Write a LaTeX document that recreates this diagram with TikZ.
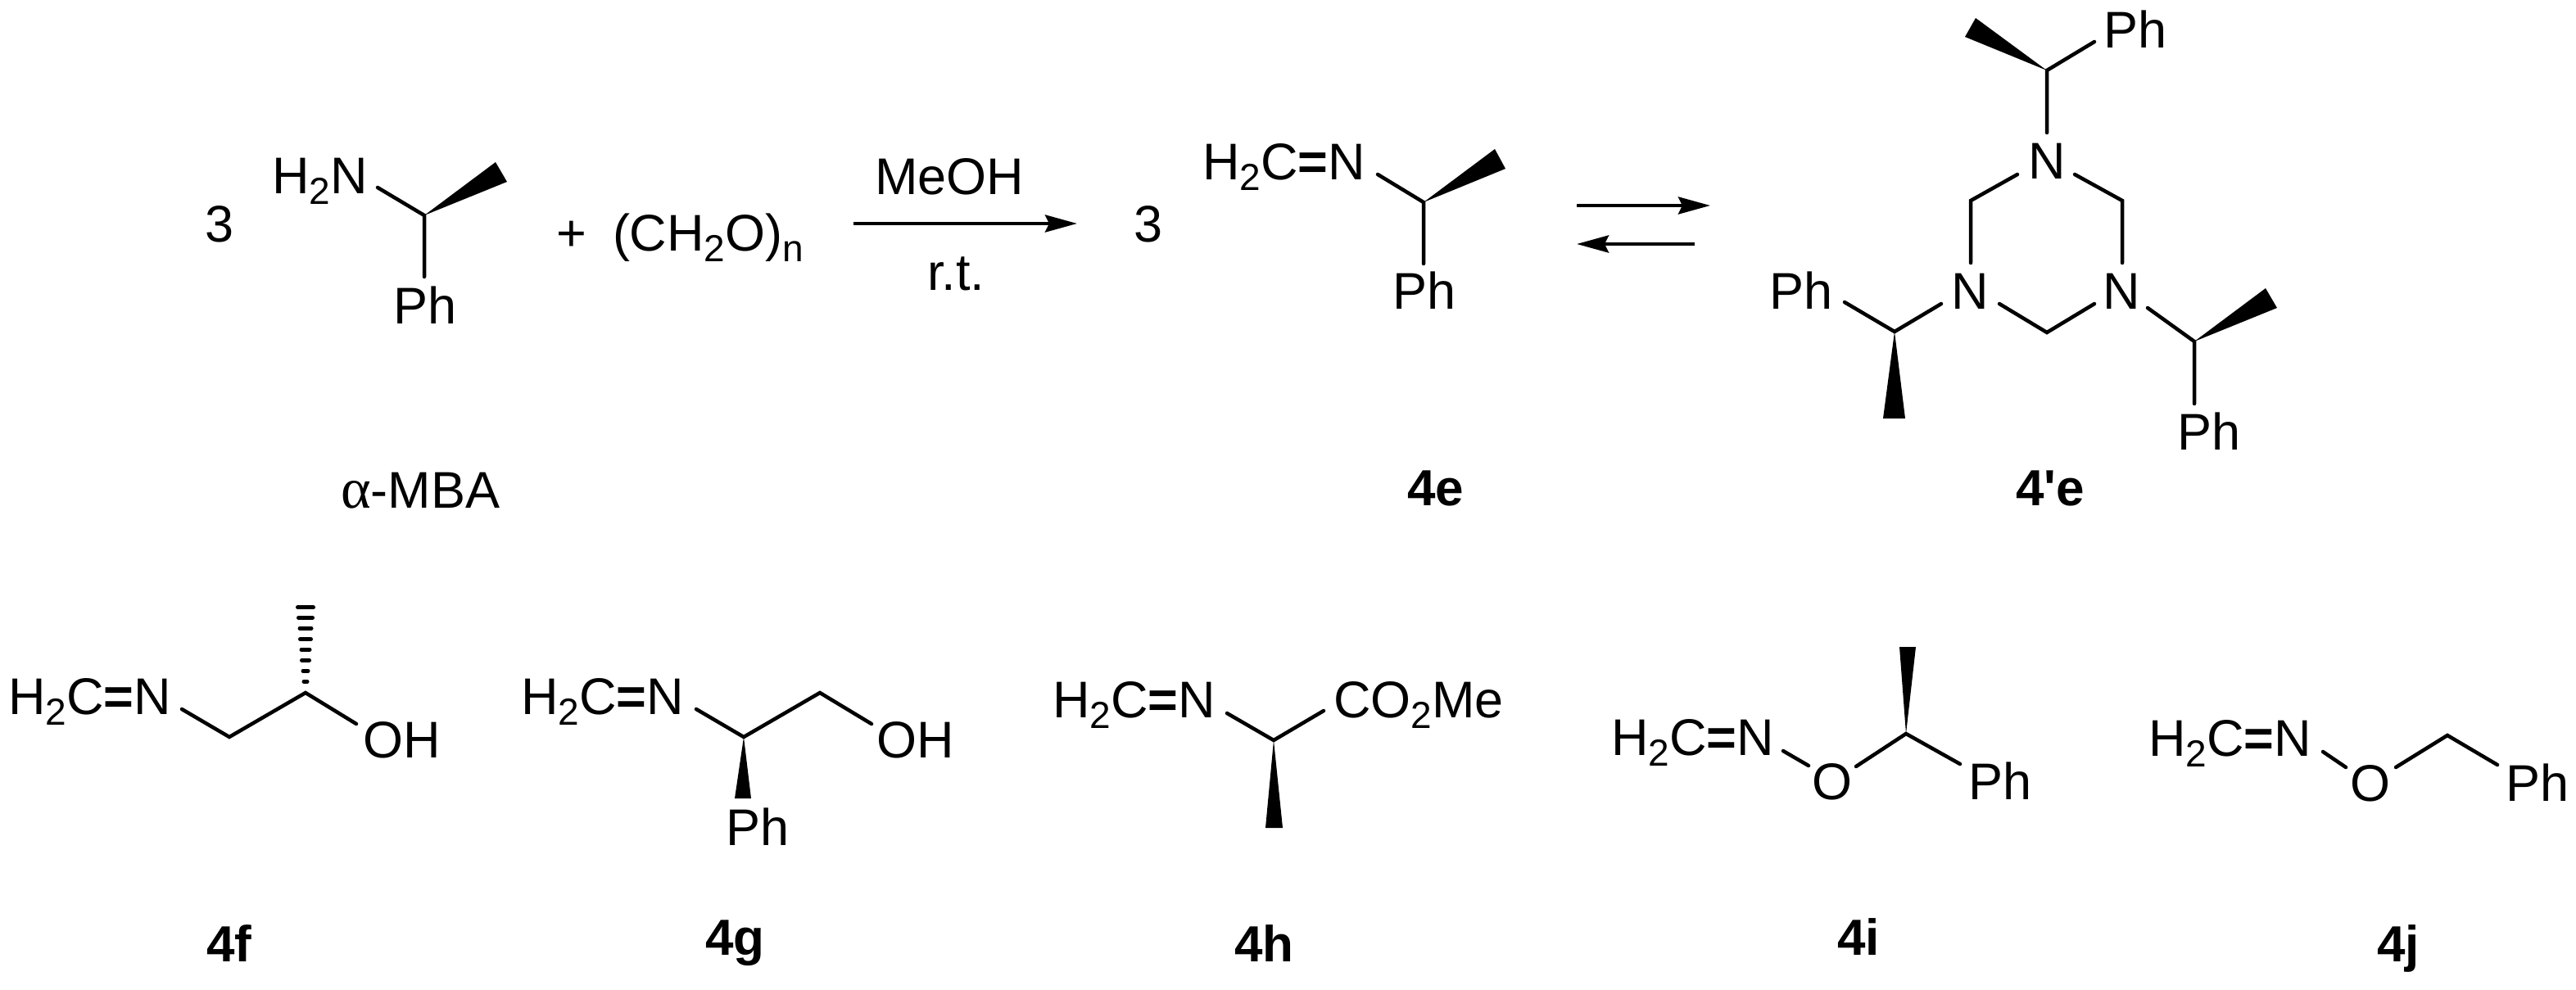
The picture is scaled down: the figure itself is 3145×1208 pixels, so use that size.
\documentclass[tikz,border=0pt]{standalone}
\usepackage{fontspec}
\setmainfont{Liberation Sans}
\newfontfamily\symfont{Liberation Serif}
\newfontfamily\cmpfont{Liberation Sans}
\usetikzlibrary{arrows.meta}
\newcommand{\sbs}[1]{\raisebox{-13pt}{\fontsize{46}{46}\selectfont #1}}
\newcommand{\imine}{H\sbs{2}C{\bfseries =}N}
\tikzset{
  lbl/.style={anchor=base west,inner sep=0pt,outer sep=0pt,font=\fontsize{63}{70}\selectfont},
  cmp/.style={anchor=base west,inner sep=0pt,outer sep=0pt,font=\fontsize{62}{70}\selectfont\cmpfont\bfseries},
  bond/.style={draw=black,line width=4.5pt,line cap=round,line join=miter},
  wedge/.style={fill=black,draw=none},
  rxn/.style={draw=black,line width=4.5pt,-{Stealth[length=39pt,width=21pt,inset=5pt]}},
  hashb/.style={draw=black,line width=5pt,line cap=round}
}
\begin{document}
\begin{tikzpicture}[x=1pt,y=-1pt]
\useasboundingbox (0,0) rectangle (3145,1208);
% ---- alpha-MBA
\node[lbl] (three1) at (250,295) {3};
\node[lbl] (amine) at (332,236) {H\sbs{2}N};
\node[lbl] (ph1) at (480,395) {Ph};
\coordinate (a1) at (461,229); \coordinate (a2) at (518,263);
\coordinate (a3) at (518,338); \coordinate (a4) at (605,198); \coordinate (a5) at (619,222);
\draw[bond] (a1) -- (a2) -- (a3);
\fill[wedge] (a2) -- (a4) -- (a5) -- cycle;
\node[lbl] (plus) at (679,306) {+};
\node[lbl] (para) at (748,306) {(CH\sbs{2}O)\sbs{n}};
\node[lbl] (amba) at (416,620) {{\symfont\fontsize{70}{70}\selectfont α}-MBA};
% ---- main arrow
\coordinate (r1) at (1042,273); \coordinate (r2) at (1315,273);
\draw[rxn] (r1) -- (r2);
\node[lbl] (meoh) at (1068,237) {MeOH};
\node[lbl] (rt) at (1132,354) {r.t.};
\node[lbl] (three2) at (1384,295) {3};
% ---- 4e
\node[lbl] (e0) at (1468,219) {\imine};
\node[lbl] (eph) at (1700,377) {Ph};
\coordinate (e1) at (1682,213); \coordinate (e2) at (1738,247);
\coordinate (e3) at (1738,322); \coordinate (e4) at (1825,182); \coordinate (e5) at (1838,206);
\draw[bond] (e1) -- (e2) -- (e3);
\fill[wedge] (e2) -- (e4) -- (e5) -- cycle;
\node[cmp] (l4e) at (1718,617) {4e};
% ---- equilibrium
\coordinate (q1) at (1925,251); \coordinate (q2) at (2088,251);
\coordinate (q3) at (2069,298); \coordinate (q4) at (1925,298);
\draw[rxn] (q1) -- (q2);
\draw[rxn] (q3) -- (q4);
% ---- 4'e
\node[lbl] (nt) at (2476,218) {N};
\node[lbl] (nl) at (2382,377) {N};
\node[lbl] (nr) at (2567,377) {N};
\node[lbl] (pt) at (2568,58) {Ph};
\node[lbl] (pl) at (2160,377) {Ph};
\node[lbl] (pr) at (2658,549) {Ph};
\coordinate (t1) at (2499,86); \coordinate (t2) at (2499,162); \coordinate (t3) at (2557,51);
\coordinate (t4) at (2412,22); \coordinate (t5) at (2399,45);
\draw[bond] (t3) -- (t1) -- (t2);
\fill[wedge] (t1) -- (t4) -- (t5) -- cycle;
\coordinate (g1) at (2463,213); \coordinate (g2) at (2406,245); \coordinate (g3) at (2406,321);
\coordinate (g4) at (2533,213); \coordinate (g5) at (2591,245); \coordinate (g6) at (2591,321);
\draw[bond] (g1) -- (g2) -- (g3);
\draw[bond] (g4) -- (g5) -- (g6);
\coordinate (g7) at (2441,371); \coordinate (g8) at (2499,406); \coordinate (g9) at (2557,371);
\draw[bond] (g7) -- (g8) -- (g9);
\coordinate (l1) at (2370,371); \coordinate (l2) at (2313,405); \coordinate (l3) at (2252,369);
\coordinate (l4) at (2299,511); \coordinate (l5) at (2326,511);
\draw[bond] (l1) -- (l2) -- (l3);
\fill[wedge] (l2) -- (l4) -- (l5) -- cycle;
\coordinate (p1) at (2622,376); \coordinate (p2) at (2679,417); \coordinate (p3) at (2679,493);
\coordinate (p4) at (2766,352); \coordinate (p5) at (2780,376);
\draw[bond] (p1) -- (p2) -- (p3);
\fill[wedge] (p2) -- (p4) -- (p5) -- cycle;
\node[cmp] (l4pe) at (2461,617) {4'e};
% ---- 4f
\node[lbl] (f0) at (10,872) {\imine};
\node[lbl] (foh) at (443,925) {OH};
\coordinate (f1) at (222,866); \coordinate (f2) at (280,900); \coordinate (f3) at (373,846); \coordinate (f4) at (435,884);
\draw[bond] (f1) -- (f2) -- (f3) -- (f4);
\foreach \yy/\w in {741.7/9.5,754.3/8.5,767.3/7,780.7/6.5,793.3/5,806.3/4.5,819.3/3,832.3/2}{
  \draw[hashb] ({373-\w},\yy) -- ({373+\w},\yy);
}
\node[cmp] (l4f) at (252,1174) {4f};
% ---- 4g
\node[lbl] (g0) at (636,872) {\imine};
\node[lbl] (goh) at (1070,925) {OH};
\node[lbl] (gph) at (886,1032) {Ph};
\coordinate (h1) at (850,866); \coordinate (h2) at (908,900); \coordinate (h3) at (1001,846); \coordinate (h4) at (1064,884);
\coordinate (h5) at (897,975); \coordinate (h6) at (917,975);
\draw[bond] (h1) -- (h2) -- (h3) -- (h4);
\fill[wedge] (h2) -- (h5) -- (h6) -- cycle;
\node[cmp] (l4g) at (861,1166) {4g};
% ---- 4h
\node[lbl] (h0) at (1285,876) {\imine};
\node[lbl] (co) at (1628,876) {CO\sbs{2}Me};
\coordinate (m1) at (1498,871); \coordinate (m2) at (1555,904); \coordinate (m3) at (1616,868);
\coordinate (m4) at (1545,1011); \coordinate (m5) at (1566,1011);
\draw[bond] (m1) -- (m2) -- (m3);
\fill[wedge] (m2) -- (m4) -- (m5) -- cycle;
\node[cmp] (l4h) at (1507,1174) {4h};
% ---- 4i
\node[lbl] (i0) at (1967,922) {\imine};
\node[lbl] (io) at (2212,976) {O};
\node[lbl] (iph) at (2403,976) {Ph};
\coordinate (i1) at (2177,917); \coordinate (i2) at (2208,935); \coordinate (i3) at (2266,936);
\coordinate (i4) at (2327,896); \coordinate (i5) at (2393,933);
\coordinate (i6) at (2319,790); \coordinate (i7) at (2339,790);
\draw[bond] (i1) -- (i2);
\draw[bond] (i3) -- (i4) -- (i5);
\fill[wedge] (i4) -- (i6) -- (i7) -- cycle;
\node[cmp] (l4i) at (2243,1166) {4i};
% ---- 4j
\node[lbl] (j0) at (2623,923) {\imine};
\node[lbl] (jo) at (2869,978) {O};
\node[lbl] (jph) at (3059,978) {Ph};
\coordinate (j1) at (2836,918); \coordinate (j2) at (2864,937); \coordinate (j3) at (2925,937);
\coordinate (j4) at (2988,898); \coordinate (j5) at (3049,934);
\draw[bond] (j1) -- (j2);
\draw[bond] (j3) -- (j4) -- (j5);
\node[cmp] (l4j) at (2902,1174) {4j};
\end{tikzpicture}
\end{document}
